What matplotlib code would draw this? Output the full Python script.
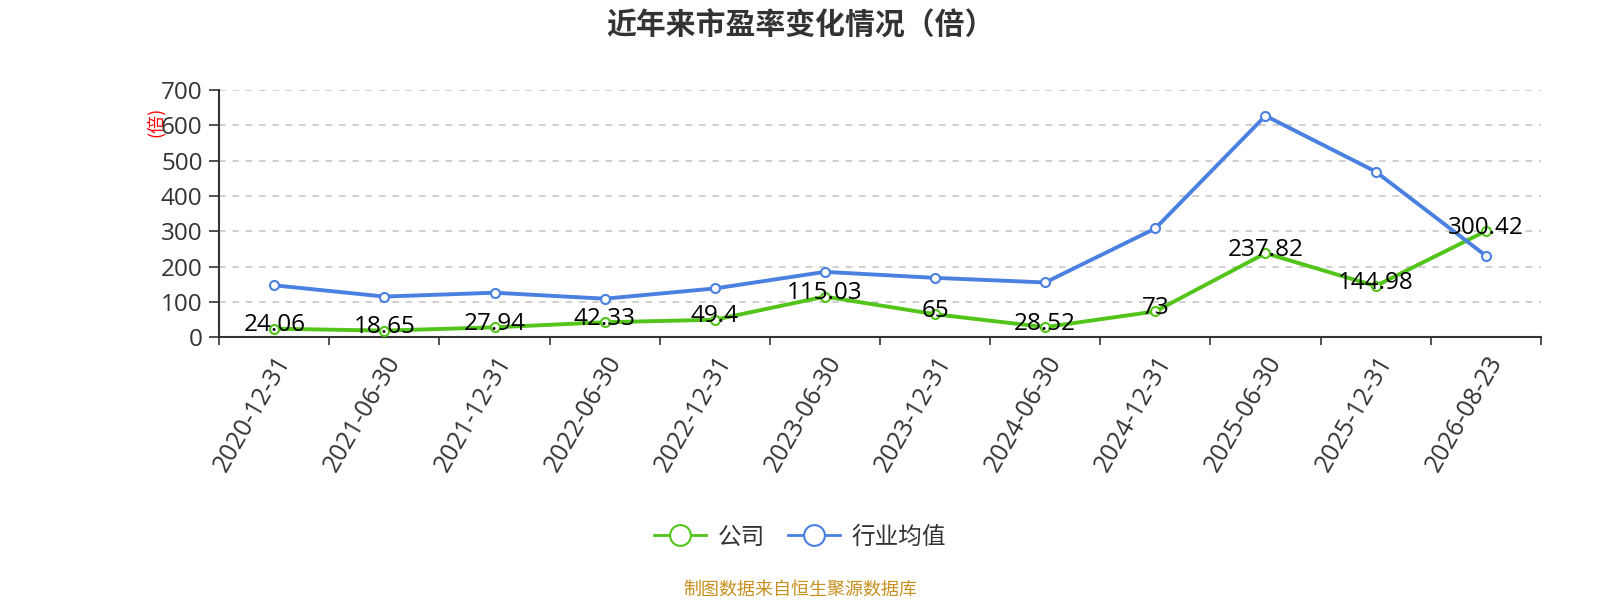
import matplotlib
matplotlib.use("Agg")
import matplotlib.pyplot as plt
from matplotlib.ticker import FixedLocator, NullFormatter
from matplotlib.transforms import ScaledTranslation

plt.rcParams['font.family'] = ['Open Sans', 'Noto Sans CJK SC', 'DejaVu Sans']
cjk = ['Noto Sans CJK SC', 'DejaVu Sans']

dates = ["2020-12-31", "2021-06-30", "2021-12-31", "2022-06-30", "2022-12-31", "2023-06-30",
         "2023-12-31", "2024-06-30", "2024-12-31", "2025-06-30", "2025-12-31", "2026-08-23"]
company = [24.06, 18.65, 27.94, 42.33, 49.4, 115.03, 65, 28.52, 73, 237.82, 144.98, 300.42]
industry = [147, 115, 126, 109, 138, 185, 168, 155, 308, 627, 469, 231]
company_labels = ["24.06", "18.65", "27.94", "42.33", "49.4", "115.03", "65", "28.52", "73",
                  "237.82", "144.98", "300.42"]
yticks = [0, 100, 200, 300, 400, 500, 600, 700]

green = '#52c41a'
blue = '#4a80e0'
axis_col = '#333333'

fig = plt.figure(figsize=(16, 6), dpi=100)
ax = fig.add_axes([0.137, 0.438, 0.826, 0.412])

x = list(range(len(dates)))
ax.plot(x, company, color=green, lw=2.8, marker='o', ms=6.5, mfc='white',
        mec=green, mew=1.5, label='公司', zorder=3)
ax.plot(x, industry, color=blue, lw=2.8, marker='o', ms=6.5, mfc='white',
        mec=blue, mew=1.5, label='行业均值', zorder=3)

for xi, v, t in zip(x, company, company_labels):
    ax.annotate(t, (xi, v), xytext=(0, 2.5), textcoords='offset points',
                ha='center', va='center', fontsize=17.5, color='black', zorder=4)

ax.set_xlim(-0.5, len(dates) - 0.5)
ax.set_ylim(0, 700)
ax.set_yticks(yticks)
ax.set_xticks(x)
ax.set_xticklabels(dates, rotation=60, ha='right', rotation_mode='anchor', fontsize=17.8,
                   color=axis_col)
shift = ScaledTranslation(-0.12, 0, fig.dpi_scale_trans)
for lab in ax.get_xticklabels():
    lab.set_transform(lab.get_transform() + shift)
ax.xaxis.set_minor_locator(FixedLocator([i - 0.5 for i in range(len(dates) + 1)]))
ax.xaxis.set_minor_formatter(NullFormatter())
ax.tick_params(axis='x', which='major', length=0, pad=10)
ax.tick_params(axis='x', which='minor', length=6, width=1.2, color=axis_col)
ax.tick_params(axis='y', length=7, width=1.2, color=axis_col, labelsize=17.5,
               labelcolor=axis_col, pad=5)

for s in ['top', 'right']:
    ax.spines[s].set_visible(False)
for s in ['left', 'bottom']:
    ax.spines[s].set_color(axis_col)
    ax.spines[s].set_linewidth(1.5)

ax.yaxis.grid(True, linestyle=(0, (4, 4)), color='#c8c8c8', lw=1.2)
ax.set_axisbelow(True)

# axis unit, sits over the "600" label like in the source chart
fig.text(0.097, 0.797, '(倍)', rotation=90, color='red', fontsize=13,
         ha='center', va='center', family=cjk)

fig.text(0.5, 0.958, '近年来市盈率变化情况（倍）', ha='center', va='center',
         fontsize=21.5, fontweight='bold', color='#333333', family=cjk)

leg = fig.legend(loc='center', bbox_to_anchor=(0.5, 0.105), ncol=2, frameon=False,
                 prop={'family': cjk, 'size': 17}, handlelength=2.2, columnspacing=1.0,
                 handletextpad=0.5, markerscale=2.3)
for t in leg.get_texts():
    t.set_color('#333333')
for h in leg.legend_handles:
    h.set_linewidth(2)

fig.text(0.5, 0.018, '制图数据来自恒生聚源数据库', ha='center', va='center',
         fontsize=13, color='#c8901e', family=cjk)

fig.savefig('out.png', dpi=100)
